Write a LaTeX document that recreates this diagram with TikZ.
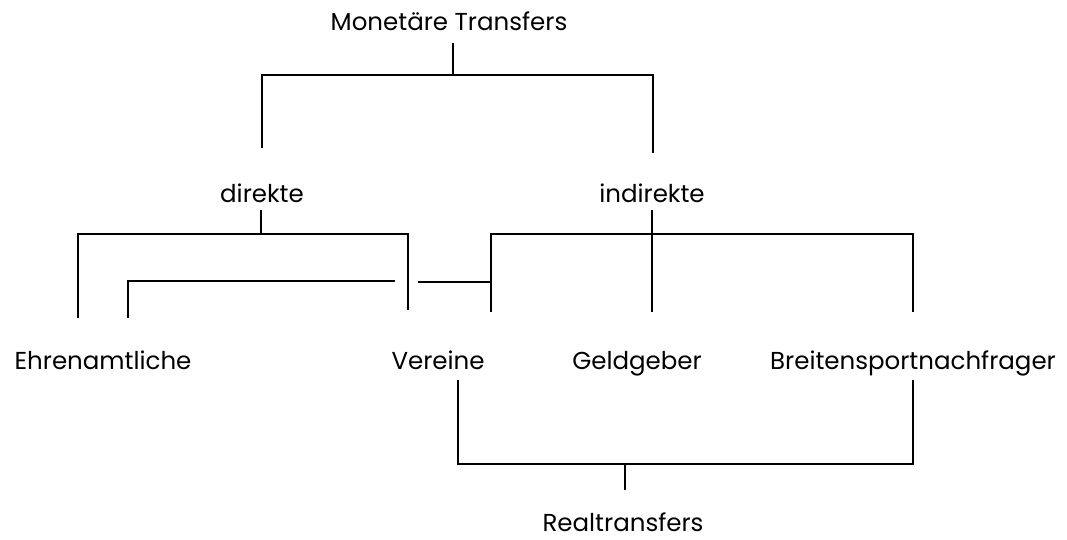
\documentclass[tikz,border=0pt]{standalone}
\usepackage{fontspec}
\setmainfont{Poppins}
\begin{document}
\begin{tikzpicture}[x=1pt, y=-1pt, font=\fontsize{24.5}{28}\selectfont, line width=1.3pt, line cap=butt, line join=miter, every node/.style={text height=18pt, text depth=0pt}]
				\useasboundingbox (0,0) rectangle (1067,540);
				% labels
				\node (mt) at (449,22) {Monetäre Transfers};
				\node (dir) at (262,193) {direkte};
				\node (ind) at (652,193) {indirekte};
				\node (ehr) at (103,360) {Ehrenamtliche};
				\node (ver) at (438,360) {Vereine};
				\node (geld) at (637,360) {Geldgeber};
				\node (breit) at (913,360) {Breitensportnachfrager};
				\node (real) at (623,522) {Realtransfers};
				% junctions
				\coordinate (m0) at (453,43); \coordinate (m1) at (453,75);
				\coordinate (mL) at (262,148); \coordinate (mR) at (653,153);
				\coordinate (d0) at (261,210); \coordinate (d1) at (261,234);
				\coordinate (dL) at (78,318); \coordinate (dR) at (408,310);
				\coordinate (e0) at (128,318); \coordinate (e1) at (395,281);
				\coordinate (v0) at (418,282); \coordinate (v1) at (491,282);
				\coordinate (i0) at (652,210); \coordinate (i1) at (652,234);
				\coordinate (iL) at (491,312); \coordinate (iM) at (652,312); \coordinate (iR) at (913,312);
				\coordinate (r0) at (458,380); \coordinate (r1) at (913,380);
				\coordinate (rM) at (625,464); \coordinate (r2) at (625,490);
				% brackets
				\draw (m0)--(m1);
				\draw (mL) |- (m1) -| (mR);
				\draw (d0)--(d1);
				\draw (dL) |- (d1) -| (dR);
				\draw (e0) |- (e1);
				\draw (v0)--(v1);
				\draw (i0)--(iM);
				\draw (iL) |- (i1) -| (iR);
				\draw (r0) |- (rM) -| (r1);
				\draw (rM)--(r2);
			\end{tikzpicture}
\end{document}
